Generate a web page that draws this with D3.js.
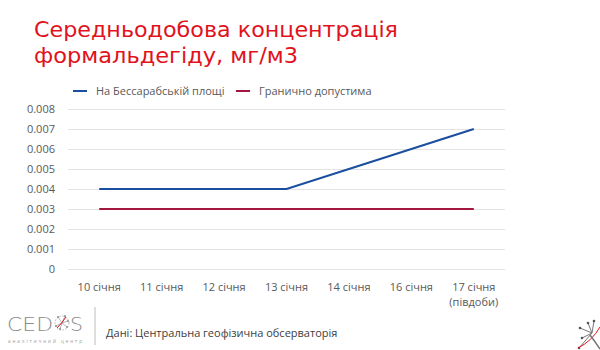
<!DOCTYPE html>
<html>
<head>
<meta charset="utf-8">
<script src="https://cdn.jsdelivr.net/npm/d3@7"></script>
<style>
  body { margin: 0; background: #fff; }
  svg { display: block; }
</style>
</head>
<body>
<div class="canvas-graph"></div>
<script>
const categories = ['10 січня', '11 січня', '12 січня', '13 січня', '14 січня', '16 січня', '17 січня|(півдоби)'];
const bessarabska = [0.004, 0.004, 0.004, 0.004, 0.005, 0.006, 0.007];
const limitValues = [0.003, 0.003, 0.003, 0.003, 0.003, 0.003, 0.003];
const yTicks = [0, 0.001, 0.002, 0.003, 0.004, 0.005, 0.006, 0.007, 0.008];
const seriesNames = ['На Бессарабській площі', 'Гранично допустима'];

const dims = { width: 600, height: 350 };
const plot = { left: 68, right: 505, top: 109, bottom: 269 };
const font = "'Open Sans', 'Noto Sans', sans-serif";
const colors = ['#1a4f9f', '#a3173f'];

const svg = d3.select('.canvas-graph')
    .append('svg')
    .attr('width', dims.width)
    .attr('height', dims.height)
    .style('font-family', font);

// title
const title = svg.append('g').attr('fill', '#e1121c')
    .style('font-family', "'DejaVu Sans', sans-serif")
    .style('font-size', '21px');
title.append('text').attr('x', 34).attr('y', 37)
    .attr('textLength', 364).attr('lengthAdjust', 'spacingAndGlyphs')
    .text('Середньодобова концентрація');
title.append('text').attr('x', 34).attr('y', 63)
    .attr('textLength', 264).attr('lengthAdjust', 'spacingAndGlyphs')
    .text('формальдегіду, мг/м3');

const x = d3.scaleBand()
    .domain(categories)
    .range([plot.left, plot.right]);

const y = d3.scaleLinear()
    .domain([0, 0.008])
    .range([plot.bottom, plot.top]);

// y axis with gridlines
const yAxis = svg.append('g')
    .attr('transform', `translate(${plot.left}, 0)`)
    .call(d3.axisLeft(y)
        .tickValues(yTicks)
        .tickSize(-(plot.right - plot.left))
        .tickPadding(13)
        .tickFormat(d => d === 0 ? '0' : d3.format('.3f')(d)));
yAxis.select('.domain').remove();
yAxis.selectAll('line').attr('stroke', '#e3e3e3').attr('stroke-width', 1);
yAxis.selectAll('text').attr('fill', '#595959').style('font-size', '11px').style('font-family', font);

// x axis labels
const xAxis = svg.append('g')
    .attr('transform', `translate(0, ${plot.bottom})`)
    .call(d3.axisBottom(x).tickSize(0).tickPadding(0).tickFormat(''));
xAxis.select('.domain').remove();
xAxis.selectAll('.tick').each(function(d) {
    const t = d3.select(this).append('text')
        .attr('fill', '#595959')
        .attr('text-anchor', 'middle')
        .style('font-size', '11px')
        .style('font-family', font);
    d.split('|').forEach((part, i) => {
        t.append('tspan').attr('x', 0).attr('y', 22 + i * 15).text(part);
    });
});

// lines
const line = d3.line()
    .x((d, i) => x(categories[i]) + x.bandwidth() / 2)
    .y(d => y(d));

[bessarabska, limitValues].forEach((values, i) => {
    svg.append('path')
        .datum(values)
        .attr('fill', 'none')
        .attr('stroke', colors[i])
        .attr('stroke-width', 2)
        .attr('d', line);
});

// legend
const legendPos = [73, 236];
const legend = svg.append('g').attr('transform', 'translate(0, 91)');
seriesNames.forEach((name, i) => {
    legend.append('line')
        .attr('x1', legendPos[i]).attr('x2', legendPos[i] + 14)
        .attr('y1', 0).attr('y2', 0)
        .attr('stroke', colors[i]).attr('stroke-width', 2);
    legend.append('text')
        .attr('x', legendPos[i] + 23).attr('y', 4)
        .attr('fill', '#595959')
        .style('font-size', '11px')
        .text(name);
});

// footer: logo
const logo = svg.append('g').attr('fill', '#8c8c8c');
logo.append('text').attr('x', 7).attr('y', 331)
    .style('font-family', "'DejaVu Sans', sans-serif").style('font-size', '19px')
    .style('font-weight', 200).attr('fill', '#8a8a8a')
    .attr('textLength', 46).attr('lengthAdjust', 'spacingAndGlyphs')
    .text('CED');
const net = logo.append('g').attr('transform', 'translate(62, 323)');
net.append('circle').attr('r', 7).attr('fill', 'none').attr('stroke', '#a0a0a0').attr('stroke-width', 0.8).attr('stroke-dasharray', '1.5 1.5');
[[-4, -6], [3, -7], [6, -2], [5, 4], [-6, 3], [-2, 6]].forEach(p => {
    net.append('line').attr('x1', 0).attr('y1', 0).attr('x2', p[0]).attr('y2', p[1]).attr('stroke', '#999').attr('stroke-width', 0.7);
    net.append('circle').attr('cx', p[0]).attr('cy', p[1]).attr('r', 0.9).attr('fill', '#888');
});
net.append('path').attr('d', 'M-5,5 Q0,0 4,-6').attr('fill', 'none').attr('stroke', '#e1121c').attr('stroke-width', 1);
logo.append('text').attr('x', 70).attr('y', 331)
    .style('font-family', "'DejaVu Sans', sans-serif").style('font-size', '19px')
    .style('font-weight', 200).attr('fill', '#8a8a8a')
    .attr('textLength', 13).attr('lengthAdjust', 'spacingAndGlyphs')
    .text('S');
logo.append('text').attr('x', 8).attr('y', 343)
    .style('font-size', '4.5px').attr('fill', '#999')
    .attr('textLength', 74).attr('lengthAdjust', 'spacing')
    .text('аналітичний центр');

svg.append('line')
    .attr('x1', 95).attr('x2', 95).attr('y1', 307).attr('y2', 345)
    .attr('stroke', '#bdbdbd').attr('stroke-width', 1);

svg.append('text')
    .attr('x', 106).attr('y', 337)
    .attr('fill', '#404040')
    .style('font-size', '11px')
    .text('Дані: Центральна геофізична обсерваторія');

// corner decoration
const corner = svg.append('g').attr('transform', 'translate(592, 333)');
[[-12, -5], [-10, 5], [-4, -10], [2, -12], [-13, 15]].forEach(p => {
    corner.append('line').attr('x1', 0).attr('y1', 0).attr('x2', p[0]).attr('y2', p[1]).attr('stroke', '#777').attr('stroke-width', 1);
    corner.append('circle').attr('cx', p[0]).attr('cy', p[1]).attr('r', 1.3).attr('fill', '#555');
});
corner.append('path').attr('d', 'M-14,15 Q0,8 8,-6').attr('fill', 'none').attr('stroke', '#e1121c').attr('stroke-width', 1);
corner.append('path').attr('d', 'M-2,2 Q4,10 8,16').attr('fill', 'none').attr('stroke', '#777').attr('stroke-width', 1.5);
</script>
</body>
</html>
